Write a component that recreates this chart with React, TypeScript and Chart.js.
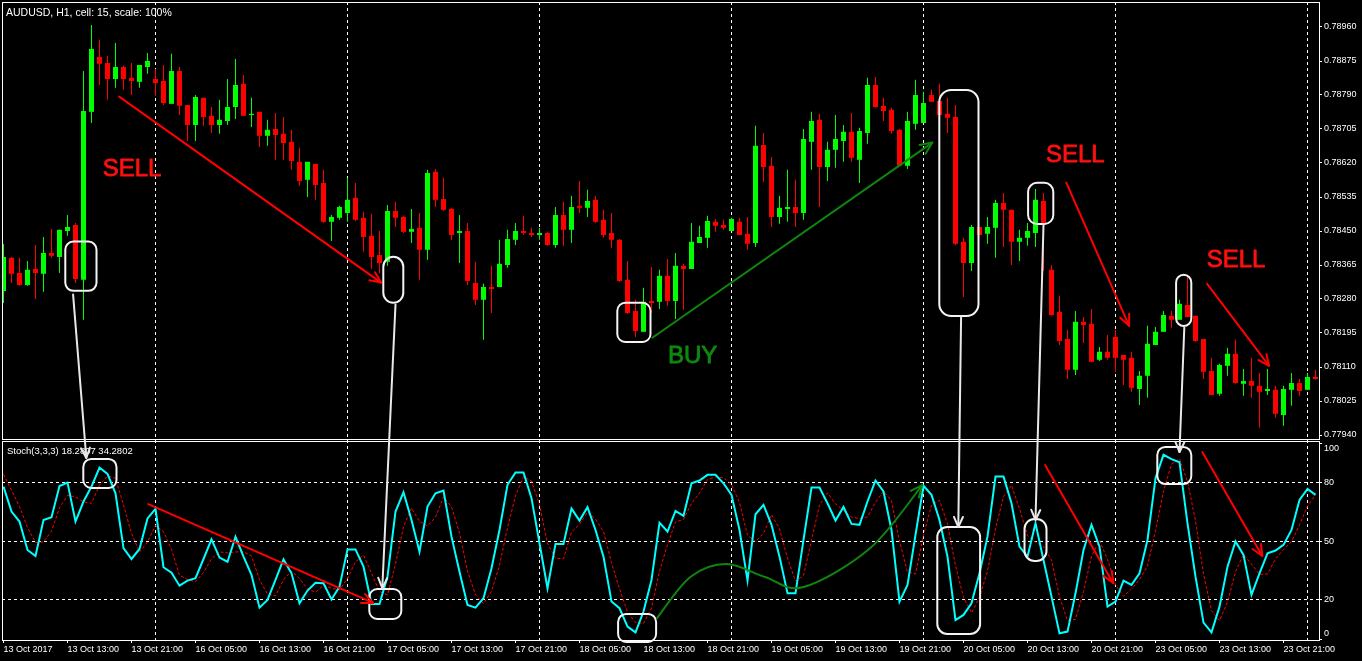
import React, { useEffect, useRef } from "react";
import { Chart, registerables } from "chart.js";

Chart.register(...registerables);

// ---------------- DATA (AUDUSD H1, 13 Oct 2017 05:00 .. 24 Oct 00:00) ----------------
const openP = [
  0.78300, 0.78383, 0.78345, 0.78315, 0.78355, 0.78343, 0.78395, 0.78385, 0.78450, 0.78465,
  0.78328, 0.78748, 0.78885, 0.78870, 0.78830, 0.78860, 0.78833, 0.78823, 0.78860, 0.78830,
  0.78825, 0.78768, 0.78850, 0.78765, 0.78715, 0.78783, 0.78738, 0.78715, 0.78725, 0.78760,
  0.78818, 0.78740, 0.78748, 0.78688, 0.78705, 0.78693, 0.78673, 0.78623, 0.78578, 0.78618,
  0.78570, 0.78473, 0.78483, 0.78495, 0.78533, 0.78483, 0.78438, 0.78390, 0.78373, 0.78500,
  0.78485, 0.78448, 0.78458, 0.78403, 0.78598, 0.78530, 0.78505, 0.78445, 0.78450, 0.78320,
  0.78278, 0.78310, 0.78310, 0.78365, 0.78428, 0.78450, 0.78445, 0.78440, 0.78445, 0.78415,
  0.78490, 0.78453, 0.78513, 0.78508, 0.78528, 0.78478, 0.78445, 0.78428, 0.78328, 0.78250,
  0.78198, 0.78275, 0.78273, 0.78338, 0.78275, 0.78363, 0.78355, 0.78420, 0.78433, 0.78473,
  0.78465, 0.78450, 0.78473, 0.78443, 0.78420, 0.78665, 0.78613, 0.78485, 0.78505, 0.78510,
  0.78495, 0.78673, 0.78728, 0.78610, 0.78653, 0.78675, 0.78698, 0.78628, 0.78695, 0.78815,
  0.78763, 0.78753, 0.78703, 0.78613, 0.78718, 0.78720, 0.78790, 0.78775, 0.78743, 0.78735,
  0.78423, 0.78370, 0.78460, 0.78443, 0.78458, 0.78520, 0.78503, 0.78423, 0.78433, 0.78445,
  0.78525, 0.78353, 0.78248, 0.78180, 0.78103, 0.78223, 0.78218, 0.78128, 0.78148, 0.78185,
  0.78140, 0.78133, 0.78055, 0.78088, 0.78165, 0.78198, 0.78238, 0.78228, 0.78265, 0.78238,
  0.78180, 0.78100, 0.78043, 0.78113, 0.78143, 0.78068, 0.78075, 0.78063, 0.78050, 0.78053,
  0.77990, 0.78053, 0.78070, 0.78053, 0.78085,
];
const highP = [
  0.78418, 0.78385, 0.78383, 0.78375, 0.78415, 0.78435, 0.78455, 0.78453, 0.78490, 0.78470,
  0.78850, 0.78965, 0.78928, 0.78888, 0.78920, 0.78863, 0.78870, 0.78865, 0.78895, 0.78855,
  0.78865, 0.78893, 0.78860, 0.78765, 0.78790, 0.78783, 0.78760, 0.78778, 0.78830, 0.78880,
  0.78840, 0.78783, 0.78748, 0.78728, 0.78745, 0.78735, 0.78703, 0.78658, 0.78623, 0.78618,
  0.78603, 0.78490, 0.78513, 0.78583, 0.78570, 0.78498, 0.78493, 0.78450, 0.78515, 0.78523,
  0.78488, 0.78505, 0.78495, 0.78603, 0.78605, 0.78583, 0.78508, 0.78490, 0.78470, 0.78373,
  0.78318, 0.78363, 0.78428, 0.78453, 0.78470, 0.78488, 0.78458, 0.78458, 0.78448, 0.78510,
  0.78523, 0.78538, 0.78575, 0.78553, 0.78538, 0.78503, 0.78495, 0.78430, 0.78375, 0.78278,
  0.78308, 0.78360, 0.78353, 0.78380, 0.78395, 0.78368, 0.78470, 0.78463, 0.78488, 0.78480,
  0.78478, 0.78483, 0.78483, 0.78485, 0.78713, 0.78695, 0.78635, 0.78538, 0.78603, 0.78578,
  0.78705, 0.78748, 0.78743, 0.78673, 0.78740, 0.78715, 0.78745, 0.78708, 0.78833, 0.78835,
  0.78783, 0.78758, 0.78705, 0.78748, 0.78828, 0.78798, 0.78803, 0.78818, 0.78783, 0.78765,
  0.78433, 0.78465, 0.78460, 0.78485, 0.78528, 0.78545, 0.78503, 0.78453, 0.78470, 0.78555,
  0.78545, 0.78365, 0.78288, 0.78203, 0.78250, 0.78235, 0.78255, 0.78160, 0.78190, 0.78203,
  0.78140, 0.78148, 0.78100, 0.78213, 0.78210, 0.78250, 0.78250, 0.78278, 0.78335, 0.78238,
  0.78180, 0.78133, 0.78118, 0.78158, 0.78178, 0.78105, 0.78133, 0.78095, 0.78105, 0.78063,
  0.78063, 0.78095, 0.78080, 0.78095, 0.78103,
];
const lowP = [
  0.78270, 0.78320, 0.78313, 0.78313, 0.78280, 0.78298, 0.78383, 0.78345, 0.78438, 0.78320,
  0.78228, 0.78720, 0.78815, 0.78778, 0.78808, 0.78803, 0.78790, 0.78808, 0.78843, 0.78788,
  0.78765, 0.78768, 0.78740, 0.78675, 0.78675, 0.78713, 0.78695, 0.78693, 0.78715, 0.78730,
  0.78738, 0.78710, 0.78660, 0.78663, 0.78628, 0.78628, 0.78603, 0.78563, 0.78535, 0.78528,
  0.78470, 0.78425, 0.78478, 0.78473, 0.78475, 0.78398, 0.78355, 0.78345, 0.78363, 0.78460,
  0.78445, 0.78420, 0.78328, 0.78378, 0.78510, 0.78500, 0.78428, 0.78370, 0.78315, 0.78265,
  0.78178, 0.78245, 0.78310, 0.78358, 0.78415, 0.78440, 0.78435, 0.78428, 0.78413, 0.78408,
  0.78413, 0.78420, 0.78495, 0.78485, 0.78470, 0.78433, 0.78408, 0.78323, 0.78243, 0.78185,
  0.78198, 0.78245, 0.78255, 0.78263, 0.78230, 0.78253, 0.78355, 0.78420, 0.78408, 0.78448,
  0.78453, 0.78450, 0.78440, 0.78403, 0.78410, 0.78573, 0.78460, 0.78468, 0.78473, 0.78460,
  0.78478, 0.78603, 0.78510, 0.78575, 0.78608, 0.78623, 0.78623, 0.78570, 0.78668, 0.78758,
  0.78725, 0.78693, 0.78613, 0.78605, 0.78703, 0.78720, 0.78773, 0.78740, 0.78695, 0.78415,
  0.78285, 0.78350, 0.78440, 0.78418, 0.78383, 0.78410, 0.78365, 0.78375, 0.78413, 0.78410,
  0.78350, 0.78238, 0.78165, 0.78080, 0.78090, 0.78170, 0.78123, 0.78125, 0.78128, 0.78098,
  0.78065, 0.78048, 0.78015, 0.78033, 0.78165, 0.78198, 0.78208, 0.78228, 0.78235, 0.78173,
  0.78080, 0.78040, 0.78038, 0.78088, 0.78068, 0.78038, 0.78033, 0.77958, 0.78040, 0.77983,
  0.77963, 0.78013, 0.78038, 0.78053, 0.78078,
];
const closeP = [
  0.78385, 0.78343, 0.78315, 0.78353, 0.78345, 0.78395, 0.78388, 0.78453, 0.78460, 0.78330,
  0.78750, 0.78905, 0.78868, 0.78830, 0.78860, 0.78830, 0.78825, 0.78865, 0.78875, 0.78820,
  0.78770, 0.78850, 0.78763, 0.78715, 0.78785, 0.78735, 0.78715, 0.78728, 0.78760, 0.78815,
  0.78738, 0.78743, 0.78688, 0.78703, 0.78690, 0.78670, 0.78625, 0.78575, 0.78623, 0.78565,
  0.78473, 0.78485, 0.78510, 0.78528, 0.78478, 0.78435, 0.78385, 0.78370, 0.78500, 0.78483,
  0.78448, 0.78455, 0.78403, 0.78595, 0.78528, 0.78503, 0.78440, 0.78450, 0.78325, 0.78278,
  0.78310, 0.78305, 0.78368, 0.78430, 0.78450, 0.78445, 0.78440, 0.78445, 0.78415, 0.78490,
  0.78453, 0.78510, 0.78508, 0.78525, 0.78473, 0.78440, 0.78428, 0.78325, 0.78245, 0.78200,
  0.78273, 0.78270, 0.78338, 0.78275, 0.78363, 0.78355, 0.78423, 0.78435, 0.78475, 0.78463,
  0.78458, 0.78480, 0.78440, 0.78418, 0.78663, 0.78610, 0.78485, 0.78508, 0.78510, 0.78495,
  0.78680, 0.78725, 0.78610, 0.78653, 0.78680, 0.78698, 0.78633, 0.78700, 0.78815, 0.78760,
  0.78750, 0.78700, 0.78613, 0.78725, 0.78790, 0.78770, 0.78773, 0.78740, 0.78733, 0.78418,
  0.78370, 0.78460, 0.78440, 0.78460, 0.78520, 0.78503, 0.78423, 0.78433, 0.78450, 0.78528,
  0.78465, 0.78240, 0.78175, 0.78103, 0.78223, 0.78215, 0.78123, 0.78148, 0.78133, 0.78133,
  0.78128, 0.78058, 0.78088, 0.78168, 0.78198, 0.78240, 0.78228, 0.78268, 0.78235, 0.78175,
  0.78098, 0.78040, 0.78115, 0.78143, 0.78070, 0.78075, 0.78063, 0.78048, 0.78055, 0.77993,
  0.78055, 0.78070, 0.78050, 0.78085, 0.78080,
];

// Stochastic(3,3,3): main (%K) and signal (%D)
const stochMain = [
  77.8, 65.1, 60.0, 45.5, 42.4, 60.8, 62.2, 78.1, 79.8, 60.0,
  70.2, 77.8, 87.5, 84.3, 74.4, 46.4, 40.9, 46.0, 61.6, 66.4,
  36.7, 33.9, 27.3, 29.9, 31.1, 40.9, 50.9, 41.6, 39.5, 52.3,
  42.1, 32.8, 16.1, 20.0, 30.2, 40.7, 33.6, 18.3, 24.8, 28.8,
  28.5, 20.3, 26.8, 45.8, 45.8, 37.0, 18.0, 18.0, 31.9, 65.1,
  74.9, 60.8, 44.6, 67.6, 74.4, 75.8, 52.3, 34.4, 17.5, 16.1,
  20.9, 36.2, 55.7, 78.7, 85.0, 85.0, 71.9, 48.9, 26.0, 48.6,
  48.6, 66.6, 60.5, 67.3, 55.7, 42.1, 19.2, 15.8, 6.4, 3.5,
  14.1, 30.2, 59.4, 54.9, 65.4, 62.9, 79.5, 80.9, 83.8, 83.8,
  79.5, 73.6, 55.7, 29.9, 63.7, 68.5, 58.3, 42.1, 23.4, 23.4,
  50.6, 77.3, 77.3, 69.3, 60.5, 67.4, 58.8, 58.3, 70.2, 80.9,
  75.3, 55.7, 19.2, 27.7, 53.2, 78.2, 73.6, 60.8, 42.1, 9.8,
  12.4, 18.3, 33.6, 52.3, 82.9, 82.9, 69.3, 47.2, 42.1, 59.1,
  40.4, 21.7, 3.0, 3.9, 23.4, 45.5, 58.3, 47.2, 16.6, 19.2,
  29.9, 27.7, 33.6, 50.6, 82.1, 94.0, 91.8, 90.2, 59.1, 31.9,
  8.5, 3.5, 16.6, 37.0, 49.8, 43.0, 22.6, 33.6, 43.8, 45.2,
  48.1, 55.7, 71.0, 76.6, 73.6,
];
const stochSignal = [
  84.0, 76.0, 67.6, 56.9, 49.3, 49.6, 55.1, 67.0, 73.4, 72.6,
  70.0, 69.3, 78.5, 83.2, 82.1, 68.4, 53.9, 44.4, 49.5, 58.0,
  54.9, 45.7, 32.6, 30.4, 29.4, 34.0, 41.0, 44.5, 44.0, 44.5,
  44.6, 42.4, 30.3, 23.0, 22.1, 30.3, 34.8, 30.9, 25.6, 24.0,
  27.4, 25.9, 25.2, 31.0, 39.5, 42.9, 33.6, 24.3, 22.6, 38.3,
  57.3, 66.9, 60.1, 57.7, 62.2, 72.6, 67.5, 54.2, 34.7, 22.7,
  18.1, 24.4, 37.6, 56.9, 73.1, 82.9, 80.6, 68.6, 48.9, 41.2,
  41.1, 54.6, 58.6, 64.8, 61.2, 55.0, 39.0, 25.7, 13.8, 8.6,
  8.0, 15.9, 34.6, 48.2, 59.9, 61.0, 69.3, 74.4, 81.4, 82.8,
  82.3, 78.9, 69.6, 53.1, 49.8, 54.0, 63.5, 56.3, 41.3, 29.6,
  32.5, 50.4, 68.4, 74.6, 69.0, 65.7, 62.2, 61.5, 62.4, 69.8,
  75.4, 70.6, 50.0, 34.2, 33.3, 53.0, 68.3, 70.8, 58.8, 37.6,
  21.4, 13.5, 21.4, 34.7, 56.3, 72.7, 78.4, 66.5, 52.9, 49.5,
  47.2, 40.4, 21.7, 9.5, 10.1, 24.3, 42.4, 50.3, 40.7, 27.7,
  21.9, 25.6, 30.4, 37.3, 55.4, 75.5, 89.3, 92.0, 80.4, 60.4,
  33.2, 14.6, 9.5, 19.0, 34.5, 43.2, 38.4, 33.0, 33.3, 40.9,
  45.7, 49.7, 58.3, 67.8, 73.7,
];

// time axis labels (one every 8 bars) and day separators (bar index of 00:00)
const timeLabels = [
  "13 Oct 2017", "13 Oct 13:00", "13 Oct 21:00", "16 Oct 05:00", "16 Oct 13:00", "16 Oct 21:00",
  "17 Oct 05:00", "17 Oct 13:00", "17 Oct 21:00", "18 Oct 05:00", "18 Oct 13:00", "18 Oct 21:00",
  "19 Oct 05:00", "19 Oct 13:00", "19 Oct 21:00", "20 Oct 05:00", "20 Oct 13:00", "20 Oct 21:00",
  "23 Oct 05:00", "23 Oct 13:00", "23 Oct 21:00",
];
const labelStep = 8;
const dayStarts = [19, 43, 67, 91, 115, 139, 163];
const priceTicks = [
  0.7794, 0.78025, 0.7811, 0.78195, 0.7828, 0.78365, 0.7845, 0.78535, 0.7862, 0.78705, 0.7879,
  0.78875, 0.7896,
];
const stochTicks = [0, 20, 50, 80, 100];
const stochLevels = [20, 50, 80];

const chartTitle = "AUDUSD, H1, cell: 15, scale: 100%";
const stochTitle = "Stoch(3,3,3) 18.2807 34.2802";

// ---------------- ANNOTATIONS (anchored to bar index and price / stoch value) ----------------
type Pane = "p" | "s";
const noteBoxes: { pane: Pane; i1: number; i2: number; v1: number; v2: number; r: number }[] = [
  { pane: "p", i1: 7.6, i2: 11.75, v1: 0.78426, v2: 0.78298, r: 8 },
  { pane: "s", i1: 9.85, i2: 14.25, v1: 92.4, v2: 76.6, r: 8 },
  { pane: "p", i1: 47.35, i2: 50.1, v1: 0.78388, v2: 0.78268, r: 10 },
  { pane: "s", i1: 45.6, i2: 49.85, v1: 26.1, v2: 9.8, r: 8 },
  { pane: "p", i1: 76.6, i2: 81.0, v1: 0.78273, v2: 0.7817, r: 8 },
  { pane: "s", i1: 76.7, i2: 81.7, v1: 13.4, v2: -1.9, r: 8 },
  { pane: "p", i1: 116.85, i2: 122.0, v1: 0.78805, v2: 0.78235, r: 12 },
  { pane: "s", i1: 116.6, i2: 122.2, v1: 57.7, v2: 2.2, r: 10 },
  { pane: "p", i1: 127.95, i2: 131.35, v1: 0.78573, v2: 0.78465, r: 9 },
  { pane: "s", i1: 127.5, i2: 130.5, v1: 61.8, v2: 39.4, r: 10 },
  { pane: "p", i1: 146.45, i2: 148.6, v1: 0.78343, v2: 0.7821, r: 8 },
  { pane: "s", i1: 144.1, i2: 148.6, v1: 98.5, v2: 78.6, r: 8 },
];
const connectors: { i1: number; p1: number; i2: number; s2: number }[] = [
  { i1: 8.7, p1: 0.78291, i2: 10.35, s2: 92.4 },
  { i1: 49.0, p1: 0.78266, i2: 47.35, s2: 26.1 },
  { i1: 119.7, p1: 0.78236, i2: 119.35, s2: 57.2 },
  { i1: 130.0, p1: 0.78466, i2: 129.0, s2: 60.8 },
  { i1: 147.6, p1: 0.78208, i2: 147.0, s2: 95.4 },
];
const redArrows: { pane: Pane; i1: number; v1: number; i2: number; v2: number }[] = [
  { pane: "p", i1: 14.45, v1: 0.78786, i2: 47.2, v2: 0.78321 },
  { pane: "p", i1: 132.85, v1: 0.78571, i2: 140.7, v2: 0.78213 },
  { pane: "p", i1: 150.45, v1: 0.78318, i2: 158.2, v2: 0.78113 },
  { pane: "s", i1: 18.1, v1: 68.9, i2: 46.2, v2: 18.5 },
  { pane: "s", i1: 130.2, v1: 88.8, i2: 138.7, v2: 28.7 },
  { pane: "s", i1: 149.85, v1: 95.4, i2: 157.35, v2: 42.4 },
];
const greenArrow = { i1: 81.1, v1: 0.78183, i2: 116.1, v2: 0.78671 };
const greenCurve: [number, number][] = [
  [81.7, 10.8], [85.85, 31.7], [90.35, 38.3], [95.2, 31.7], [100.0, 26.6], [108.35, 46.5], [114.85, 78.6],
];
const noteTexts: { text: string; i: number; v: number; color: string }[] = [
  { text: "SELL", i: 12.4, v: 0.78588, color: "#ff1010" },
  { text: "SELL", i: 130.3, v: 0.78623, color: "#ff1010" },
  { text: "SELL", i: 150.4, v: 0.78361, color: "#ff1010" },
  { text: "BUY", i: 83.05, v: 0.78121, color: "#0e8a0e" },
];

// ---------------- helpers ----------------
function roundBox(c: CanvasRenderingContext2D, xa: number, ya: number, xb: number, yb: number, rad: number) {
  const x = Math.min(xa, xb) + 1, y = Math.min(ya, yb) + 1;
  const w = Math.abs(xb - xa) - 2, h = Math.abs(yb - ya) - 2;
  const r = Math.min(rad, w / 2, h / 2);
  c.beginPath();
  c.moveTo(x + r, y);
  c.lineTo(x + w - r, y);
  c.arcTo(x + w, y, x + w, y + r, r);
  c.lineTo(x + w, y + h - r);
  c.arcTo(x + w, y + h, x + w - r, y + h, r);
  c.lineTo(x + r, y + h);
  c.arcTo(x, y + h, x, y + h - r, r);
  c.lineTo(x, y + r);
  c.arcTo(x, y, x + r, y, r);
  c.closePath();
  c.stroke();
}
function arrowHead(c: CanvasRenderingContext2D, x1: number, y1: number, x2: number, y2: number, len = 10, ang = 0.42) {
  const a = Math.atan2(y2 - y1, x2 - x1);
  c.beginPath();
  c.moveTo(x2 - len * Math.cos(a - ang), y2 - len * Math.sin(a - ang));
  c.lineTo(x2, y2);
  c.lineTo(x2 - len * Math.cos(a + ang), y2 - len * Math.sin(a + ang));
  c.stroke();
}
function arrow(c: CanvasRenderingContext2D, x1: number, y1: number, x2: number, y2: number, len = 10) {
  c.beginPath();
  c.moveTo(x1, y1);
  c.lineTo(x2, y2);
  c.stroke();
  arrowHead(c, x1, y1, x2, y2, len);
}
function noPadding(s: any) {
  s.paddingTop = 0;
  s.paddingBottom = 0;
  s.paddingLeft = 0;
  s.paddingRight = 0;
}

const overlayPlugin = {
  id: "mtOverlay",
  beforeDraw(chart: any) {
    const c = chart.ctx as CanvasRenderingContext2D;
    c.save();
    c.fillStyle = "#000";
    c.fillRect(0, 0, chart.width, chart.height);
    c.restore();
  },
  afterDraw(chart: any) {
    const c = chart.ctx as CanvasRenderingContext2D;
    const xs = chart.scales.x, yp = chart.scales.y, yst = chart.scales.ys;
    const X = (i: number) => xs.getPixelForValue(i);
    const Y = (pane: Pane, v: number) => (pane === "p" ? yp : yst).getPixelForValue(v);
    const { left, right } = chart.chartArea;
    c.save();
    c.setLineDash([]);
    // panel frames
    c.strokeStyle = "#ffffff";
    c.lineWidth = 1;
    c.strokeRect(left + 0.5, yp.top + 0.5, right - left, yp.bottom - yp.top - 1);
    c.strokeRect(left + 0.5, yst.top + 1.5, right - left, yst.bottom - yst.top - 1);
    // header texts
    c.fillStyle = "#ffffff";
    c.textBaseline = "alphabetic";
    c.textAlign = "left";
    c.font = '10.5px "Liberation Sans", Arial, sans-serif';
    c.fillText(chartTitle, left + 4, yp.top + 13.5);
    c.font = '9.5px "Liberation Sans", Arial, sans-serif';
    c.fillText(stochTitle, left + 5, yst.top + 14);

    c.lineCap = "round";
    c.lineJoin = "round";
    // white boxes
    c.strokeStyle = "#f4f4f4";
    c.lineWidth = 2;
    noteBoxes.forEach((b) => roundBox(c, X(b.i1), Y(b.pane, b.v1), X(b.i2), Y(b.pane, b.v2), b.r));
    // connectors
    c.strokeStyle = "#e8e8e8";
    connectors.forEach((k) => arrow(c, X(k.i1), Y("p", k.p1), X(k.i2), Y("s", k.s2), 11));
    // red arrows
    c.strokeStyle = "#ff0000";
    redArrows.forEach((a) => arrow(c, X(a.i1), Y(a.pane, a.v1), X(a.i2), Y(a.pane, a.v2), 12));
    // green arrow
    c.strokeStyle = "#0e860e";
    arrow(c, X(greenArrow.i1), Y("p", greenArrow.v1), X(greenArrow.i2), Y("p", greenArrow.v2), 13);
    // green curve in stoch pane
    const pts = greenCurve.map(([i, v]) => [X(i), Y("s", v)]);
    c.beginPath();
    c.moveTo(pts[0][0], pts[0][1]);
    for (let k = 0; k < pts.length - 1; k++) {
      const p0 = pts[Math.max(k - 1, 0)], p1 = pts[k], p2 = pts[k + 1], p3 = pts[Math.min(k + 2, pts.length - 1)];
      c.bezierCurveTo(
        p1[0] + (p2[0] - p0[0]) / 6, p1[1] + (p2[1] - p0[1]) / 6,
        p2[0] - (p3[0] - p1[0]) / 6, p2[1] - (p3[1] - p1[1]) / 6,
        p2[0], p2[1]
      );
    }
    c.stroke();
    const n = pts.length;
    arrowHead(c, pts[n - 2][0], pts[n - 2][1], pts[n - 1][0], pts[n - 1][1], 13);
    // texts
    c.font = '24px "Liberation Sans", Arial, sans-serif';
    c.lineWidth = 0.8;
    noteTexts.forEach((t) => {
      c.fillStyle = t.color;
      c.strokeStyle = t.color;
      c.fillText(t.text, X(t.i), Y("p", t.v));
      c.strokeText(t.text, X(t.i), Y("p", t.v));
    });
    c.restore();
  },
};

export default function App() {
  const ref = useRef<HTMLCanvasElement>(null);
  useEffect(() => {
    document.body.style.margin = "0";
    document.body.style.background = "#000";
    const canvas = ref.current!;
    const idx = openP.map((_, i) => i);
    const colors = idx.map((i) => (closeP[i] >= openP[i] ? "#00ff00" : "#ff0000"));
    const bodies = idx.map((i) => ({ x: i, y: [openP[i], closeP[i]] }));
    const wicks = idx.map((i) => ({ x: i, y: [lowP[i], highP[i]] }));
    const kData = stochMain.map((v, i) => ({ x: i, y: v }));
    const dData = stochSignal.map((v, i) => ({ x: i, y: v }));
    const axisFont = { family: '"Liberation Sans", Arial, sans-serif', size: 9 };

    const chart = new Chart(canvas, {
      type: "bar",
      data: {
        datasets: [
          {
            type: "bar", data: bodies as any, backgroundColor: colors, borderWidth: 0, barThickness: 5,
            grouped: false, inflateAmount: 0, minBarLength: 1, xAxisID: "x", yAxisID: "y",
          } as any,
          {
            type: "bar", data: wicks as any, backgroundColor: colors, borderWidth: 0, barThickness: 1,
            grouped: false, inflateAmount: 0, xAxisID: "x", yAxisID: "y",
          } as any,
          {
            type: "line", data: kData as any, borderColor: "#00ffff", borderWidth: 2, pointRadius: 0,
            tension: 0, xAxisID: "x", yAxisID: "ys",
          } as any,
          {
            type: "line", data: dData as any, borderColor: "#ff0000", borderWidth: 1, borderDash: [3, 2],
            pointRadius: 0, tension: 0, xAxisID: "x", yAxisID: "ys",
          } as any,
        ],
      },
      options: {
        responsive: false,
        animation: false,
        devicePixelRatio: 1,
        events: [],
        layout: { padding: { left: 2, top: 2, right: 0, bottom: 0 } },
        plugins: { legend: { display: false }, tooltip: { enabled: false }, title: { display: false } },
        scales: {
          x: {
            type: "linear", position: "bottom", min: -0.1875, max: 164.4375, offset: false, bounds: "data",
            grid: { display: true, drawOnChartArea: false, drawTicks: true, tickLength: 3, tickColor: "#ffffff", color: "#ffffff", offset: false },
            border: { display: false },
            ticks: {
              autoSkip: false, maxRotation: 0, minRotation: 0, align: "start", padding: 1, color: "#ffffff", font: axisFont,
              callback: (_v: any, i: number) => timeLabels[i],
            },
            afterBuildTicks: (s: any) => { s.ticks = timeLabels.map((_, k) => ({ value: k * labelStep })); },
            afterFit: (s: any) => { s.height = 21; noPadding(s); },
          } as any,
          xg: {
            type: "linear", position: "top", min: -0.1875, max: 164.4375, offset: false, bounds: "data",
            grid: { display: true, drawOnChartArea: true, drawTicks: false, color: "#ffffff", lineWidth: 1, offset: false },
            border: { display: false, dash: [3, 3] },
            ticks: { display: false },
            afterBuildTicks: (s: any) => { s.ticks = dayStarts.map((v) => ({ value: v })); },
            afterFit: (s: any) => { s.height = 0; noPadding(s); },
          } as any,
          y: {
            type: "linear", position: "right", stack: "panes", stackWeight: 438, min: 0.779275, max: 0.790225,
            beginAtZero: false, bounds: "data",
            grid: { drawOnChartArea: false, drawTicks: true, tickLength: 3, tickColor: "#ffffff" },
            border: { display: false },
            ticks: { color: "#ffffff", padding: 2, font: axisFont, callback: (v: any) => Number(v).toFixed(5) },
            afterBuildTicks: (s: any) => { s.ticks = priceTicks.map((v) => ({ value: v })); },
            afterFit: (s: any) => { s.width = 43; noPadding(s); },
          } as any,
          ys: {
            type: "linear", position: "right", stack: "panes", stackWeight: 200, min: -0.39, max: 101.55,
            beginAtZero: false, bounds: "data",
            grid: {
              drawOnChartArea: true, drawTicks: true, tickLength: 3, tickColor: "#ffffff",
              color: (ctx: any) => (ctx.tick && stochLevels.includes(ctx.tick.value) ? "#ffffff" : "rgba(0,0,0,0)"),
            },
            border: { display: false, dash: [3, 3] },
            ticks: {
              color: "#ffffff", padding: 2, font: axisFont,
              callback: (v: any) => (v === 100 ? ["", "100"] : v === 0 ? ["0", ""] : String(v)),
            },
            afterBuildTicks: (s: any) => { s.ticks = stochTicks.map((v) => ({ value: v })); },
            afterFit: (s: any) => { s.width = 43; noPadding(s); },
          } as any,
        },
      } as any,
      plugins: [overlayPlugin],
    });
    return () => chart.destroy();
  }, []);

  return (
    <div style={{ position: "fixed", left: 0, top: 0, width: 1362, height: 661, background: "#000", overflow: "hidden" }}>
      <canvas ref={ref} width={1362} height={661} style={{ display: "block", width: 1362, height: 661 }} />
    </div>
  );
}
